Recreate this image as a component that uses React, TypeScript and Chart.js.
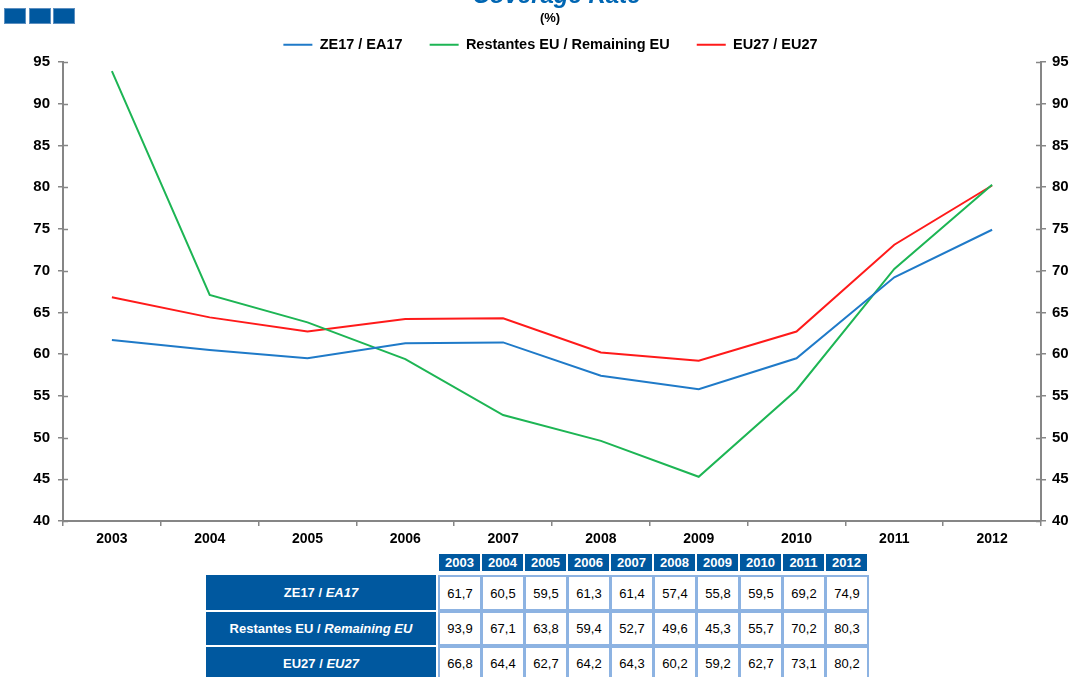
import React, { useEffect, useRef } from 'react';
import { Chart, registerables } from 'chart.js';

Chart.register(...registerables);

// ---------- data ----------
const years = ['2003', '2004', '2005', '2006', '2007', '2008', '2009', '2010', '2011', '2012'];
const ze17 = [61.7, 60.5, 59.5, 61.3, 61.4, 57.4, 55.8, 59.5, 69.2, 74.9];
const remainingEU = [93.9, 67.1, 63.8, 59.4, 52.7, 49.6, 45.3, 55.7, 70.2, 80.3];
const eu27 = [66.8, 64.4, 62.7, 64.2, 64.3, 60.2, 59.2, 62.7, 73.1, 80.2];
const seriesLabels = ['ZE17 / EA17', 'Restantes EU / Remaining EU', 'EU27 / EU27'];
const rowLabelsPt = ['ZE17', 'Restantes EU', 'EU27'];
const rowLabelsEn = ['EA17', 'Remaining EU', 'EU27'];
const yMin = 40;
const yMax = 95;
const yStep = 5;
const titleText = 'Coverage Rate';
const unitText = '(%)';

// ---------- styles ----------
const FONT = "'Liberation Sans', Arial, Helvetica, sans-serif";
const AXIS = '#868686';
const TABLE_BLUE = '#00589F';
const CELL_BORDER = '#8DB3E2';
const COLORS = ['#1F7AC8', '#1DB554', '#FF1A1A'];

const innerTicks = {
  id: 'innerTicks',
  afterDraw(chart: any) {
    const ctx = chart.ctx;
    const area = chart.chartArea;
    ctx.save();
    ctx.strokeStyle = AXIS;
    ctx.lineWidth = 1.5;
    ['y', 'y2'].forEach((id) => {
      const s = chart.scales[id];
      const x0 = id === 'y' ? area.left : area.right;
      const dir = id === 'y' ? 1 : -1;
      s.ticks.forEach((t: any) => {
        const py = Math.round(s.getPixelForValue(t.value)) + 0.5;
        ctx.beginPath();
        ctx.moveTo(x0, py);
        ctx.lineTo(x0 + dir * 5, py);
        ctx.stroke();
      });
    });
    ctx.restore();
  },
};

function fmt(v: number) {
  return v.toFixed(1).replace('.', ',');
}

export default function App() {
  const ref = useRef<HTMLCanvasElement | null>(null);

  useEffect(() => {
    if (!ref.current) return;
    const series = [ze17, remainingEU, eu27];
    const chart = new Chart(ref.current, {
      type: 'line',
      data: {
        labels: years,
        datasets: series.map((d, i) => ({
          label: seriesLabels[i],
          data: d,
          borderColor: COLORS[i],
          backgroundColor: COLORS[i],
          borderWidth: 2,
          pointRadius: 0,
          tension: 0,
          fill: false,
          yAxisID: 'y',
        })),
      },
      options: {
        animation: false,
        responsive: false,
        layout: { padding: { top: 10.5, left: 32, right: 0, bottom: 0 } },
        plugins: {
          legend: {
            display: true,
            position: 'top',
            labels: {
              usePointStyle: true,
              pointStyle: 'line',
              pointStyleWidth: 29,
              boxHeight: 2,
              padding: 27,
              color: '#000',
              font: { family: FONT, size: 14.5, weight: 'bold' },
            },
          },
          title: { display: false },
          tooltip: { enabled: false },
        },
        scales: {
          x: {
            type: 'category',
            offset: true,
            grid: {
              display: true,
              offset: true,
              drawOnChartArea: false,
              drawTicks: true,
              tickLength: 5,
              color: AXIS,
              lineWidth: 1.5,
            },
            border: { display: true, color: AXIS, width: 2 },
            ticks: {
              color: '#000',
              padding: 5,
              maxRotation: 0,
              font: { family: FONT, size: 14, weight: 'bold' },
            },
            afterFit: (s: any) => {
              s.height = 32;
            },
          },
          y: {
            position: 'left',
            min: yMin,
            max: yMax,
            grid: {
              display: true,
              drawOnChartArea: false,
              drawTicks: true,
              tickLength: 5,
              color: AXIS,
              lineWidth: 1.5,
            },
            border: { display: true, color: AXIS, width: 2 },
            ticks: {
              stepSize: yStep,
              color: '#000',
              padding: 8,
              font: { family: FONT, size: 15, weight: 'bold' },
            },
            afterFit: (s: any) => {
              s.width = 31;
            },
          },
          y2: {
            position: 'right',
            min: yMin,
            max: yMax,
            grid: {
              display: true,
              drawOnChartArea: false,
              drawTicks: true,
              tickLength: 5,
              color: AXIS,
              lineWidth: 1.5,
            },
            border: { display: true, color: AXIS, width: 2 },
            ticks: {
              stepSize: yStep,
              color: '#000',
              padding: 6,
              font: { family: FONT, size: 15, weight: 'bold' },
            },
            afterFit: (s: any) => {
              s.width = 28;
            },
          },
        },
      } as any,
      plugins: [innerTicks],
    });
    return () => chart.destroy();
  }, []);

  const colLeft = 438;
  const colW = 43;
  const rowTops = [575, 612, 647];
  const rowHeights = [35, 33, 33];
  const tableRows = [ze17, remainingEU, eu27];

  return (
    <div
      style={{
        position: 'fixed',
        left: 0,
        top: 0,
        width: 1069,
        height: 677,
        background: '#fff',
        overflow: 'hidden',
        fontFamily: FONT,
      }}
    >
      <canvas
        ref={ref}
        width={1069}
        height={553}
        style={{ position: 'absolute', left: 0, top: 0, width: 1069, height: 553 }}
      />
      {/* logo squares */}
      {[4, 28.5, 53].map((x, i) => (
        <div
          key={'sq' + i}
          style={{
            position: 'absolute',
            left: x,
            top: 8,
            width: 22,
            height: 16,
            background: TABLE_BLUE,
            boxSizing: 'border-box',
            border: '1px solid #5C8FC0',
          }}
        />
      ))}
      {/* title */}
      <div
        style={{
          position: 'absolute',
          left: 256.5,
          width: 600,
          top: -17,
          textAlign: 'center',
          font: `italic bold 24px/24px ${FONT}`,
          color: '#0066B3',
          whiteSpace: 'nowrap',
        }}
      >
        {titleText}
      </div>
      <div
        style={{
          position: 'absolute',
          left: 450,
          width: 200,
          top: 10.5,
          textAlign: 'center',
          font: `bold 13px/13px ${FONT}`,
          color: '#000',
        }}
      >
        {unitText}
      </div>
      {/* table header */}
      {years.map((y, i) => (
        <div
          key={'h' + y}
          style={{
            position: 'absolute',
            left: colLeft + i * colW + 1,
            top: 554,
            width: colW - 2,
            height: 17,
            background: TABLE_BLUE,
            color: '#fff',
            font: `bold 13px/17px ${FONT}`,
            textAlign: 'center',
          }}
        >
          {y}
        </div>
      ))}
      {/* table rows */}
      {tableRows.map((row, r) => (
        <React.Fragment key={'r' + r}>
          <div
            style={{
              position: 'absolute',
              left: 206,
              top: rowTops[r],
              width: 230,
              height: rowHeights[r],
              background: TABLE_BLUE,
              color: '#fff',
              font: `bold 13px/${rowHeights[r]}px ${FONT}`,
              textAlign: 'center',
              whiteSpace: 'nowrap',
            }}
          >
            {rowLabelsPt[r]} / <i>{rowLabelsEn[r]}</i>
          </div>
          {row.map((v, i) => (
            <div
              key={'c' + r + '_' + i}
              style={{
                position: 'absolute',
                left: colLeft + i * colW,
                top: rowTops[r] - (r === 0 ? 0 : 1),
                width: colW + 1,
                height: rowHeights[r] + (r === 0 ? 1 : 2),
                boxSizing: 'border-box',
                border: `2px solid ${CELL_BORDER}`,
                background: '#fff',
                color: '#000',
                font: `13px/${rowHeights[r] - 2}px ${FONT}`,
                textAlign: 'center',
              }}
            >
              {fmt(v)}
            </div>
          ))}
        </React.Fragment>
      ))}
    </div>
  );
}
